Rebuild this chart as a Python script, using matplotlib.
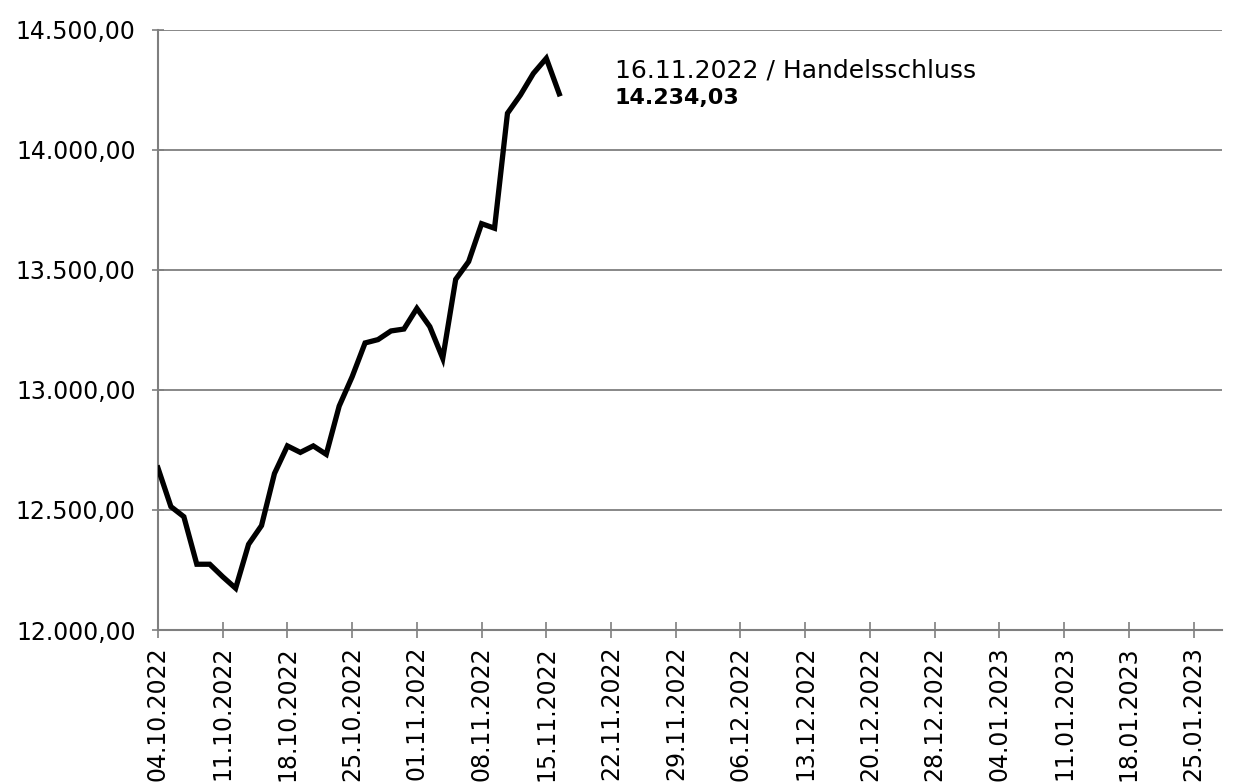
import numpy as np
import matplotlib.pyplot as plt
from matplotlib.ticker import FuncFormatter

# Schlusskurse je Handelstag ab 04.10.2022
kurse = [12675, 12514, 12472, 12274, 12274, 12222, 12174, 12357, 12435, 12652,
         12767, 12740, 12767, 12732, 12933, 13055, 13196, 13210, 13246, 13254,
         13340, 13264, 13132, 13461, 13535, 13693, 13674, 14153, 14229, 14319,
         14382, 14234.03]

# Beschriftung jeder fünfte Handelstag
tick_labels = ['04.10.2022', '11.10.2022', '18.10.2022', '25.10.2022', '01.11.2022',
               '08.11.2022', '15.11.2022', '22.11.2022', '29.11.2022', '06.12.2022',
               '13.12.2022', '20.12.2022', '28.12.2022', '04.01.2023', '11.01.2023',
               '18.01.2023', '25.01.2023']
anzahl_tage = 83

y_ticks = [12000, 12500, 13000, 13500, 14000, 14500]

letzter_tag = '16.11.2022'
letzter_kurs = kurse[-1]


def de_format(v, pos=None):
    s = f'{v:,.2f}'
    return s.replace(',', 'X').replace('.', ',').replace('X', '.')


plt.rcParams['font.family'] = ['DejaVu Sans']
grau = '#7f7f7f'

fig = plt.figure(figsize=(12.36, 7.83), dpi=100)
ax = fig.add_axes([0.1278, 0.1954, 0.8609, 0.7663])

x = np.arange(len(kurse))
ax.plot(x, kurse, color='black', lw=3.8, solid_joinstyle='miter', zorder=3)

ax.set_xlim(0, anzahl_tage - 0.8)
ax.set_ylim(y_ticks[0], y_ticks[-1])

ax.set_xticks(np.arange(0, 5 * len(tick_labels), 5))
ax.set_xticklabels(tick_labels, rotation=90, fontsize=17)
ax.set_yticks(y_ticks)
ax.yaxis.set_major_formatter(FuncFormatter(de_format))
ax.tick_params(axis='y', labelsize=17, direction='inout', length=8, width=1.2,
               color=grau, pad=12)
ax.tick_params(axis='x', direction='inout', length=11, width=1.2, color=grau, pad=6)

ax.grid(axis='y', color=grau, lw=1.3)
ax.set_axisbelow(True)
for side in ['top', 'right']:
    ax.spines[side].set_visible(False)
for side in ['left', 'bottom']:
    ax.spines[side].set_color(grau)
    ax.spines[side].set_linewidth(1.5)
ax.spines['bottom'].set_zorder(4)

# Schlusskurs am letzten Handelstag
ax.text(35.3, 14300, f'{letzter_tag} / Handelsschluss', fontsize=18, va='baseline')
ax.text(35.3, 14192, de_format(letzter_kurs), fontsize=16, fontweight='bold',
        va='baseline')

fig.savefig('out.png', dpi=100)
